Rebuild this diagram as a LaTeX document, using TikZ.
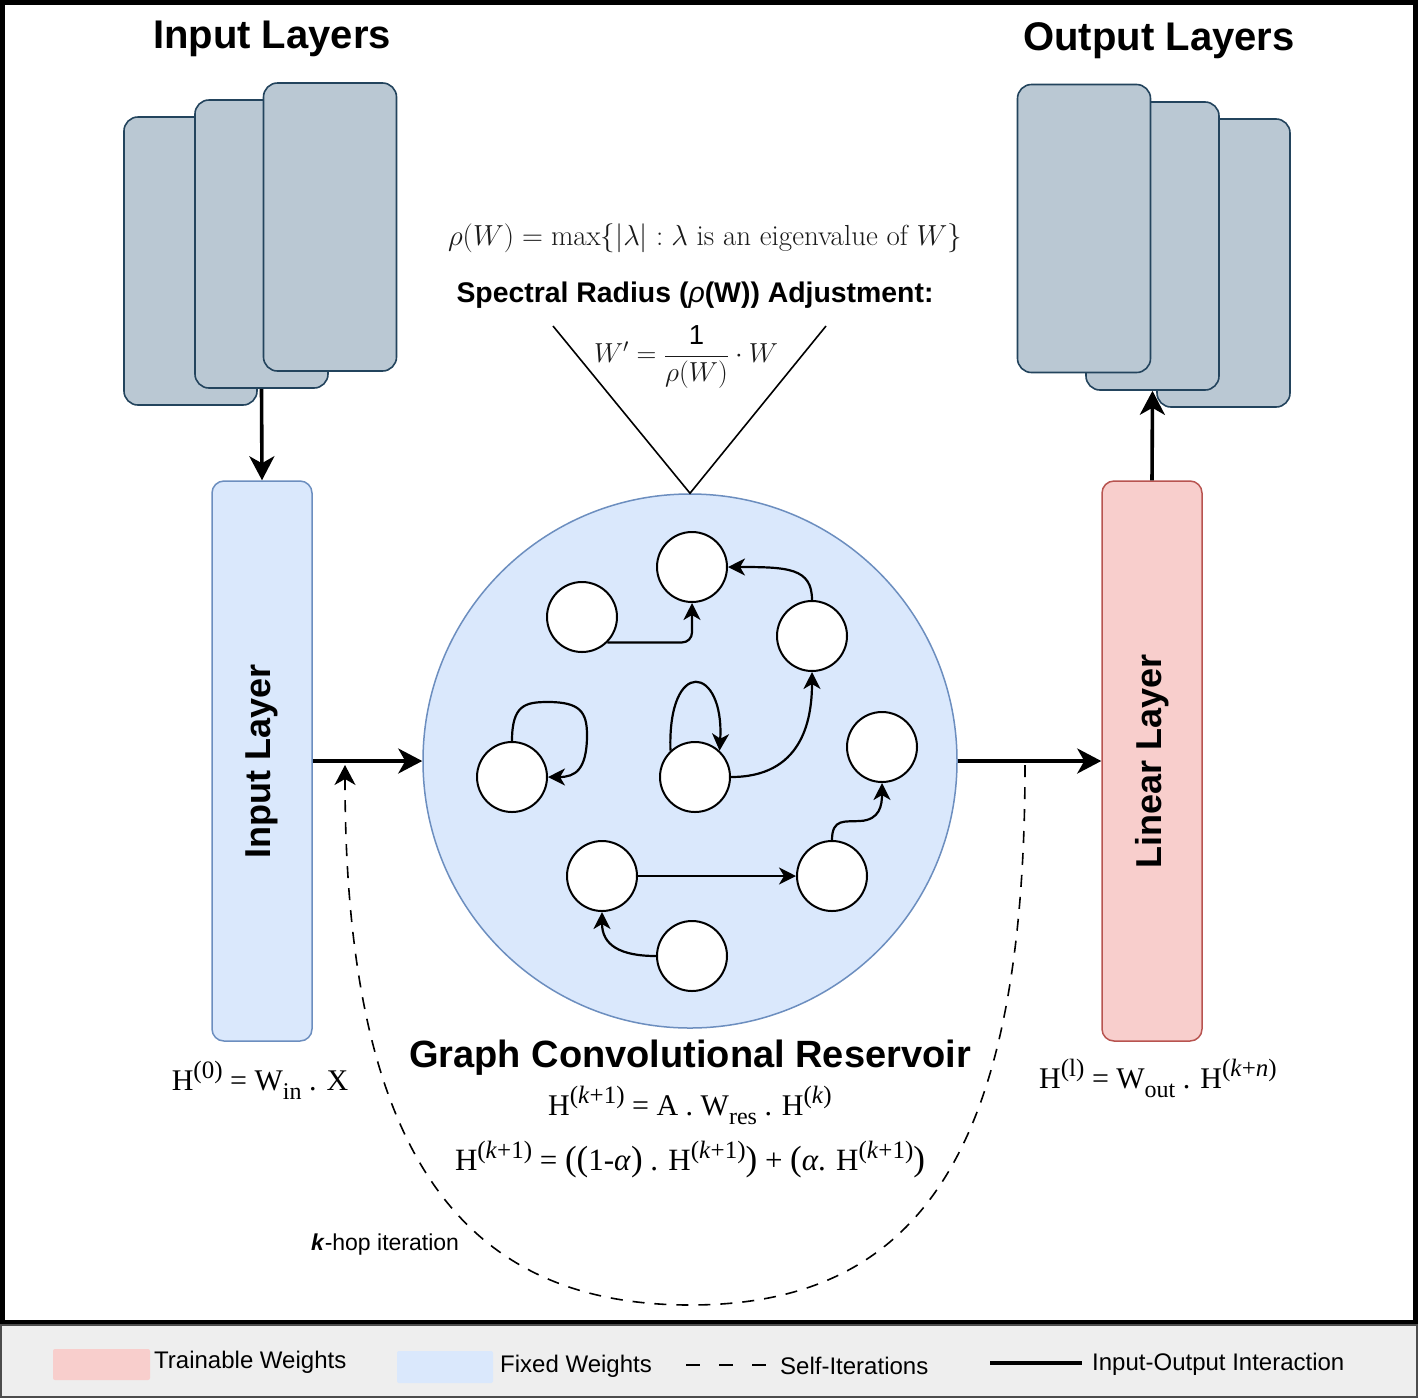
\RequirePackage{fix-cm}
\documentclass[tikz,border=0pt]{standalone}
\usepackage{fontspec}
\newfontfamily\hv{Liberation Sans}
\newfontfamily\tms{Liberation Serif}
\usetikzlibrary{arrows.meta}
\definecolor{stackfill}{HTML}{BAC8D3}
\definecolor{stackdraw}{HTML}{23445D}
\definecolor{bluefill}{HTML}{DAE8FC}
\definecolor{bluedraw}{HTML}{6C8EBF}
\definecolor{redfill}{HTML}{F8CECC}
\definecolor{reddraw}{HTML}{B85450}
\definecolor{legfill}{HTML}{EEEEEE}
\definecolor{mathgray}{HTML}{1A1A1A}
\newcommand\fsz[1]{\fontsize{#1}{#1}\selectfont}
\newcommand\sps[1]{\raisebox{12pt}{\fsz{25}#1}}
\newcommand\sbs[1]{\raisebox{-9pt}{\fsz{24}#1}}
\newcommand\bpar[1]{{\fsz{35}#1}}
\tikzset{
  stackbox/.style={draw=stackdraw,fill=stackfill,line width=1.6pt,rounded corners=14pt,minimum width=133pt,minimum height=288pt,inner sep=0pt},
  layerbox/.style={line width=1.5pt,rounded corners=12pt,minimum width=100pt,minimum height=560pt,inner sep=0pt},
  gnode/.style={circle,draw=black,fill=white,line width=2pt,minimum size=70pt,inner sep=0pt},
  mainarrow/.style={line width=3.6pt,-{Stealth[length=24pt,width=25pt,inset=7pt]}},
  edge/.style={line width=2.2pt,-{Stealth[length=17pt,width=17pt,inset=5pt]}},
  titletext/.style={font=\hv\bfseries\fsz{40}},
  legtext/.style={font=\hv\fsz{24},anchor=west,inner sep=0pt},
  eqtext/.style={font=\tms\fsz{30}},
}
\begin{document}
\begin{tikzpicture}[x=1pt,y=-1pt]
\useasboundingbox (0,0) rectangle (1418,1398);
\fill[white] (0,0) rectangle (1418,1398);
% frame
\draw[line width=5pt] (2.5,2.5) rectangle (1415.5,1322);
\draw[fill=legfill,draw=black!70,line width=2pt] (1,1325) rectangle (1417,1397);

% titles
\node[titletext] (tin) at (272,39) {Input Layers};
\node[titletext] (tout) at (1159,41) {Output Layers};

% input stacks
\node[stackbox] (in1) at (190.5,261) {};
\node[stackbox] (in2) at (261.5,244) {};
\node[stackbox] (in3) at (330,227) {};
% output stacks
\node[stackbox] (outC) at (1223.5,263) {};
\node[stackbox] (outB) at (1152.5,246) {};
\node[stackbox] (outA) at (1084,228.5) {};

% layers
\node[layerbox,draw=bluedraw,fill=bluefill] (inl) at (262,761) {};
\node[rotate=90,font=\hv\bfseries\fsz{36}] at (inl.center) {Input Layer};
\node[layerbox,draw=reddraw,fill=redfill] (linl) at (1152,761) {};
\node[rotate=90,font=\hv\bfseries\fsz{36}] at (linl.center) {Linear Layer};

% reservoir
\node[circle,draw=bluedraw,fill=bluefill,line width=1.5pt,minimum size=534pt,inner sep=0pt] (res) at (690,761) {};

% spectral radius
\coordinate (vl) at (553,326);
\coordinate (vr) at (826,326);
\draw[line width=1.6pt] (vl) -- (res.north) -- (vr);
\node[font=\fsz{29},text=mathgray] (rho) at (705,238) {$\rho(W) = \max\{|\lambda| : \lambda\ \mbox{is an eigenvalue of}\ W\}$};
\node[font=\hv\bfseries\fsz{28.4}] (spec) at (695,295) {Spectral Radius ({\mdseries\itshape ρ}(W)) Adjustment:};
\node[font=\fsz{27.5},text=mathgray] (wp) at (686,357) {$W' = \displaystyle\frac{\mbox{\hv\color{black}1}}{\rho(W)}\cdot W$};

% main arrows
\draw[mainarrow] (in2.south) -- (inl.north);
\draw[mainarrow] (linl.north) -- (outB.south);
\draw[mainarrow] (inl.east) -- (res.west);
\draw[mainarrow] (res.east) -- (linl.west);

% graph nodes
\node[gnode] (n1) at (692,567) {};
\node[gnode] (n2) at (582,617) {};
\node[gnode] (n3) at (812,636) {};
\node[gnode] (n4) at (512,777) {};
\node[gnode] (n5) at (695,777) {};
\node[gnode] (n6) at (882,747) {};
\node[gnode] (n7) at (602,876) {};
\node[gnode] (n8) at (832,876) {};
\node[gnode] (n9) at (692,956) {};

\draw[edge,rounded corners=10pt] (n2.-45) -| (n1.south);
\draw[edge] (n3.north) .. controls +(0,-32) and +(60,0) .. (n1.east);
\draw[edge] (n5.east) .. controls +(70,0) and +(0,50) .. (n3.south);
\draw[edge] (n5.133) .. controls +(-3,-95) and +(5,-85) .. (n5.47);
\draw[edge] (n4.north) .. controls (512,705) and (525,702) .. (548,702) .. controls (580,702) and (587,712) .. (587,735) .. controls (587,770) and (575,777) .. (n4.east);
\draw[edge] (n7.east) -- (n8.west);
\draw[edge] (n8.north) .. controls (832,818) and (845,822) .. (860,821) .. controls (880,820) and (882,805) .. (n6.south);
\draw[edge] (n9.west) .. controls (620,956) and (602,945) .. (n7.south);

% k-hop dashed
\coordinate (ks) at (1025,765);
\coordinate (ke) at (345,765);
\draw[line width=1.6pt,dash pattern=on 12pt off 10pt,-{Stealth[length=20pt,width=21pt,inset=6pt]}] (ks) .. controls (1025,1150) and (920,1305) .. (690,1305) .. controls (460,1305) and (345,1150) .. (ke);
\node[font=\hv\fsz{23}] (khop) at (385,1245) {\textbf{\textit{k}}-hop iteration};

% equations
\node[font=\hv\bfseries\fsz{38}] (gcr) at (690,1058) {Graph Convolutional Reservoir};
\node[eqtext] (eq1) at (690,1105) {H\sps{(\textit{k}+1)} = A . W\sbs{res} . H\sps{(\textit{k})}};
\node[font=\tms\fsz{31}] (eq2) at (690,1160) {H\sps{(\textit{k}+1)} = \bpar{((}1-\textit{α}\bpar{)} . H\sps{(\textit{k}+1)}\bpar{)} + \bpar{(}\textit{α}. H\sps{(\textit{k}+1)}\bpar{)}};
\node[eqtext] (h0) at (260,1080) {H\sps{(0)} = W\sbs{in} . X};
\node[eqtext] (hl) at (1158,1078) {H\sps{(l)} = W\sbs{out} . H\sps{(\textit{k}+\textit{n})}};

% legend
\node[fill=redfill,minimum width=97pt,minimum height=31pt,inner sep=0pt,rounded corners=2pt] (lg1) at (101.5,1364.5) {};
\node[legtext] (lt1) at (154,1362) {Trainable Weights};
\node[fill=bluefill,minimum width=96pt,minimum height=32pt,inner sep=0pt,rounded corners=2pt] (lg2) at (445,1367) {};
\node[legtext] (lt2) at (500,1366) {Fixed Weights};
\coordinate (ld1) at (686,1365);
\coordinate (ld2) at (766,1365);
\draw[line width=1.8pt,dash pattern=on 14pt off 19pt] (ld1) -- (ld2);
\node[legtext] (lt3) at (780,1366) {Self-Iterations};
\coordinate (ls1) at (990,1363);
\coordinate (ls2) at (1082,1363);
\draw[line width=4pt] (ls1) -- (ls2);
\node[legtext] (lt4) at (1092,1364) {Input-Output Interaction};
\end{tikzpicture}
\end{document}
